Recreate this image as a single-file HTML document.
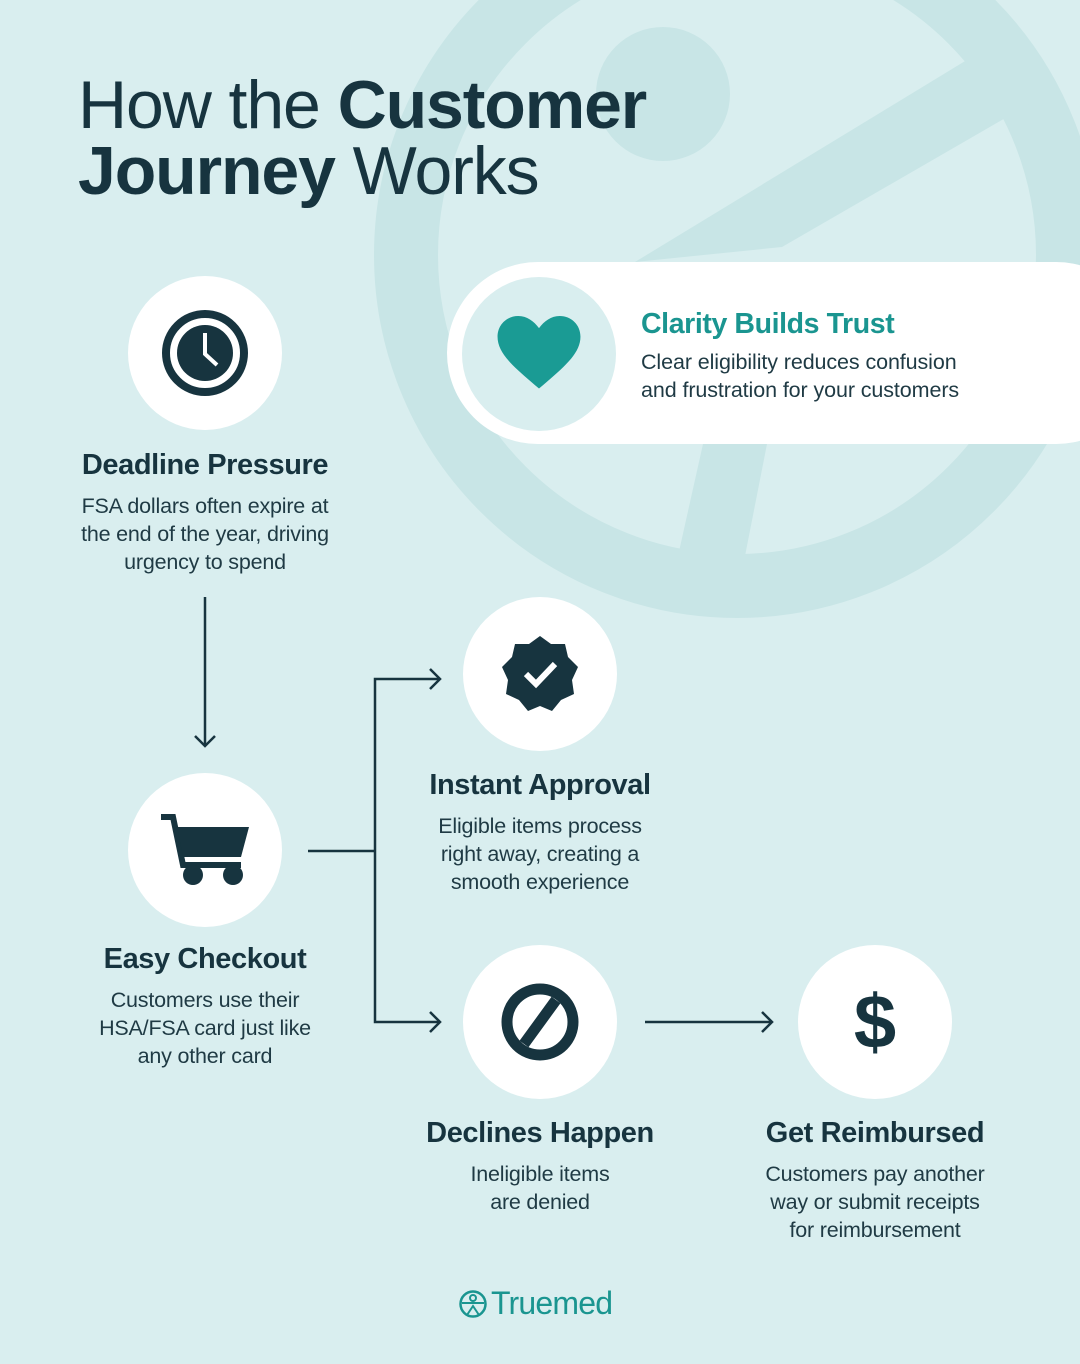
<!DOCTYPE html>
<html><head><meta charset="utf-8"><style>
*{margin:0;padding:0;box-sizing:border-box}
body{width:1080px;height:1364px;background:#d9eeef;position:relative;overflow:hidden;font-family:"Liberation Sans",Arial,sans-serif;color:#17343f}
.abs{position:absolute}
.circ{position:absolute;width:154px;height:154px;border-radius:50%;background:#fff;display:flex;align-items:center;justify-content:center}
.t{position:absolute;text-align:center;font-weight:bold;font-size:29px;letter-spacing:-0.4px}
.d{position:absolute;text-align:center;font-size:21.5px;line-height:28px;color:#1f3a44;letter-spacing:-0.2px}
</style></head><body>
<svg class="abs" style="left:0;top:0" width="1080" height="1364">
<g fill="#c8e5e6">
<circle cx="737" cy="255" r="331" fill="none" stroke="#c8e5e6" stroke-width="64"/>
<polygon points="998,41 1040,98 782,247 635,262"/>
<polygon points="703,444 767,444 745,556 678,556"/>
<circle cx="663" cy="94" r="67"/>
</g>
<g stroke="#17343f" stroke-width="2.5" fill="none">
<line x1="205" y1="597" x2="205" y2="746"/><polyline points="195,736 205,746 215,736"/>
<line x1="308" y1="851" x2="375" y2="851"/>
<polyline points="440,679 375,679 375,1022 440,1022"/>
<polyline points="430,669 440,679 430,689"/><polyline points="430,1012 440,1022 430,1032"/>
<line x1="645" y1="1022" x2="772" y2="1022"/><polyline points="762,1012 772,1022 762,1032"/>
</g>
</svg>
<div class="abs" style="left:78px;top:72px;font-size:68px;line-height:66px;letter-spacing:-1.1px">How the <b>Customer</b><br><b>Journey</b> Works</div>
<div class="abs" style="left:447px;top:262px;width:700px;height:182px;background:#fff;border-radius:91px"></div>
<div class="circ" style="left:462px;top:277px;background:#d9eeef">
<svg width="84" height="76" viewBox="0 0 24 22"><path d="M12 21C5 15 0 11 0 6 0 2.5 2.7 0 6 0c2.5 0 4.5 1.5 6 3.5C13.5 1.5 15.5 0 18 0c3.3 0 6 2.5 6 6 0 5-5 9-12 15z" fill="#1a9b94"/></svg></div>
<div class="abs" style="left:641px;top:308px;font-size:28.5px;font-weight:bold;color:#1a9590;letter-spacing:-0.4px">Clarity Builds Trust</div>
<div class="abs" style="left:641px;top:348px;font-size:21.5px;line-height:28px;color:#1f3a44;letter-spacing:-0.1px">Clear eligibility reduces confusion<br>and frustration for your customers</div>

<div class="circ" style="left:128px;top:276px"><svg width="90" height="90"><circle cx="45" cy="45" r="39" fill="none" stroke="#17343f" stroke-width="8"/><circle cx="45" cy="45" r="28" fill="#17343f"/><polyline points="45,25 45,46 57,57" fill="none" stroke="#fff" stroke-width="4"/></svg></div>
<div class="t" style="left:30px;width:350px;top:449px">Deadline Pressure</div>
<div class="d" style="left:30px;width:350px;top:492px">FSA dollars often expire at<br>the end of the year, driving<br>urgency to spend</div>

<div class="circ" style="left:128px;top:773px"><svg width="92" height="74"><polyline points="2,4 14,4 24,52 82,52" fill="none" stroke="#17343f" stroke-width="6"/><polygon points="18,14 90,14 82,44 24,44" fill="#17343f"/><circle cx="34" cy="62" r="10" fill="#17343f"/><circle cx="74" cy="62" r="10" fill="#17343f"/></svg></div>
<div class="t" style="left:30px;width:350px;top:943px">Easy Checkout</div>
<div class="d" style="left:30px;width:350px;top:986px">Customers use their<br>HSA/FSA card just like<br>any other card</div>

<div class="circ" style="left:463px;top:597px"><svg width="80" height="80" viewBox="-40 -40 80 80"><polygon fill="#17343f" points="0,-38 11,-30 25,-30 28,-17 38,-7 32,6 34,20 21,26 12,37 0,32 -12,37 -21,26 -34,20 -32,6 -38,-7 -28,-17 -25,-30 -11,-30"/><polyline points="-14,0 -4,10 15,-10" fill="none" stroke="#fff" stroke-width="6"/></svg></div>
<div class="t" style="left:365px;width:350px;top:769px">Instant Approval</div>
<div class="d" style="left:365px;width:350px;top:812px">Eligible items process<br>right away, creating a<br>smooth experience</div>

<div class="circ" style="left:463px;top:945px"><svg width="80" height="80"><circle cx="40" cy="40" r="33" fill="none" stroke="#17343f" stroke-width="11"/><line x1="56" y1="18" x2="24" y2="62" stroke="#17343f" stroke-width="11"/></svg></div>
<div class="t" style="left:365px;width:350px;top:1117px">Declines Happen</div>
<div class="d" style="left:365px;width:350px;top:1160px">Ineligible items<br>are denied</div>

<div class="circ" style="left:798px;top:945px"><span style="font-size:76px;font-weight:bold;color:#17343f">$</span></div>
<div class="t" style="left:700px;width:350px;top:1117px">Get Reimbursed</div>
<div class="d" style="left:700px;width:350px;top:1160px">Customers pay another<br>way or submit receipts<br>for reimbursement</div>

<div class="abs" style="left:458px;top:1285px;display:flex;align-items:center;color:#1a9590;font-size:32px;letter-spacing:-0.8px">
<svg width="30" height="30" style="margin-right:3px"><circle cx="15" cy="15" r="12.5" fill="none" stroke="#1a9590" stroke-width="2.5"/><circle cx="15" cy="9" r="3" fill="none" stroke="#1a9590" stroke-width="2"/><line x1="4" y1="14" x2="26" y2="14" stroke="#1a9590" stroke-width="2"/><polyline points="9,26 15,17 21,26" fill="none" stroke="#1a9590" stroke-width="2"/></svg>Truemed</div>
</body></html>
